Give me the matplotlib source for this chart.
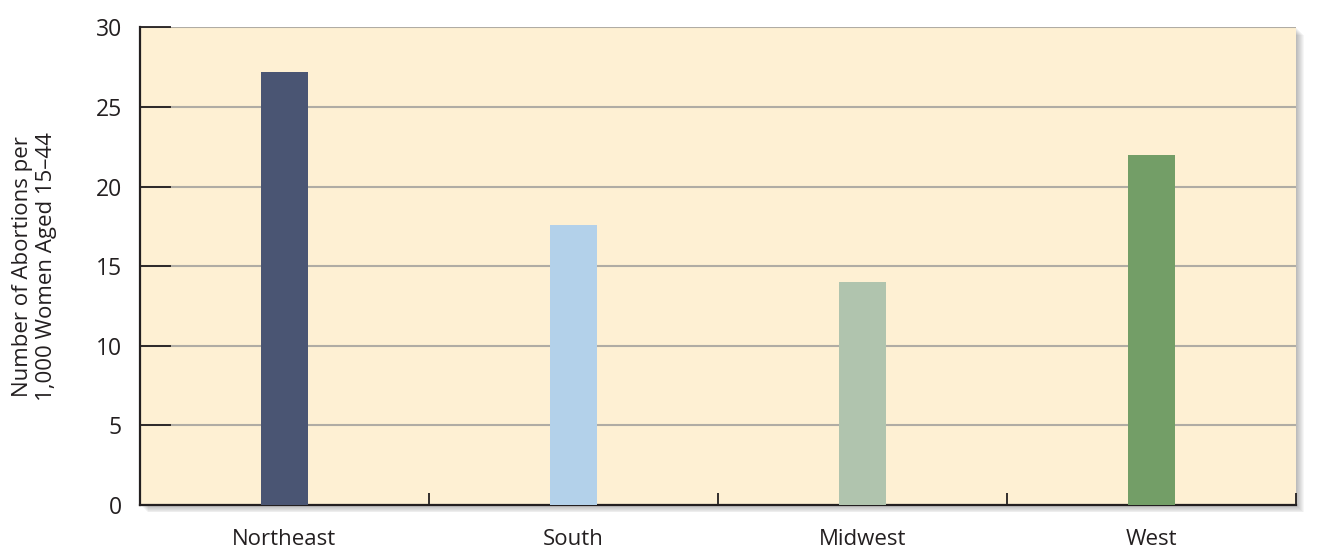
import numpy as np
import matplotlib.pyplot as plt
from matplotlib.patches import Rectangle

plt.rcParams['font.family'] = ['Open Sans', 'DejaVu Sans']

# data
regions = ["Northeast", "South", "Midwest", "West"]
rates = [27.2, 17.6, 14.0, 22.0]
bar_colors = ["#4a5573", "#b3d1ea", "#b0c4ae", "#739e67"]
yticks = [0, 5, 10, 15, 20, 25, 30]

fig = plt.figure(figsize=(13.24, 5.53), dpi=100)
ax = fig.add_axes([0.1057, 0.0868, 0.8732, 0.8635])

# soft drop shadow behind the plot area
for i in range(8):
    off = (i + 1) * 0.0012
    fig.patches.append(Rectangle((0.1057 + off * 0.6, 0.0868 - off * 1.4), 0.8732, 0.8635,
                                 transform=fig.transFigure, facecolor="#000000",
                                 alpha=0.035, edgecolor="none", zorder=0))
ax.set_zorder(1)

ax.set_facecolor("#fef0d3")
x = np.arange(len(regions))
ax.bar(x, rates, width=0.16, color=bar_colors, zorder=3)

ax.set_xlim(-0.5, len(regions) - 0.5)
ax.set_ylim(0, 30)
ax.set_yticks(yticks)
ax.yaxis.grid(True, color="#b0aca4", linewidth=1.5, zorder=1)

ax.set_xticks(x)
ax.set_xticklabels(regions, fontsize=16, color="#231f20")
ax.set_xticks(np.arange(-0.5, len(regions)), minor=True)
ax.tick_params(axis="x", which="major", length=0, pad=17)
ax.tick_params(axis="x", which="minor", direction="in", length=9, width=1.3, color="#231f20")
ax.tick_params(axis="y", direction="in", length=22, width=1.3, color="#231f20",
               pad=13, labelsize=16.5, labelcolor="#231f20")

for side in ["top", "right"]:
    ax.spines[side].set_visible(False)
for side in ["left", "bottom"]:
    ax.spines[side].set_color("#231f20")
    ax.spines[side].set_linewidth(1.6)

ax.set_ylabel("Number of Abortions per\n1,000 Women Aged 15\u201344", fontsize=16,
              color="#231f20", labelpad=28, linespacing=1.2)

plt.savefig("out.png", dpi=100)
